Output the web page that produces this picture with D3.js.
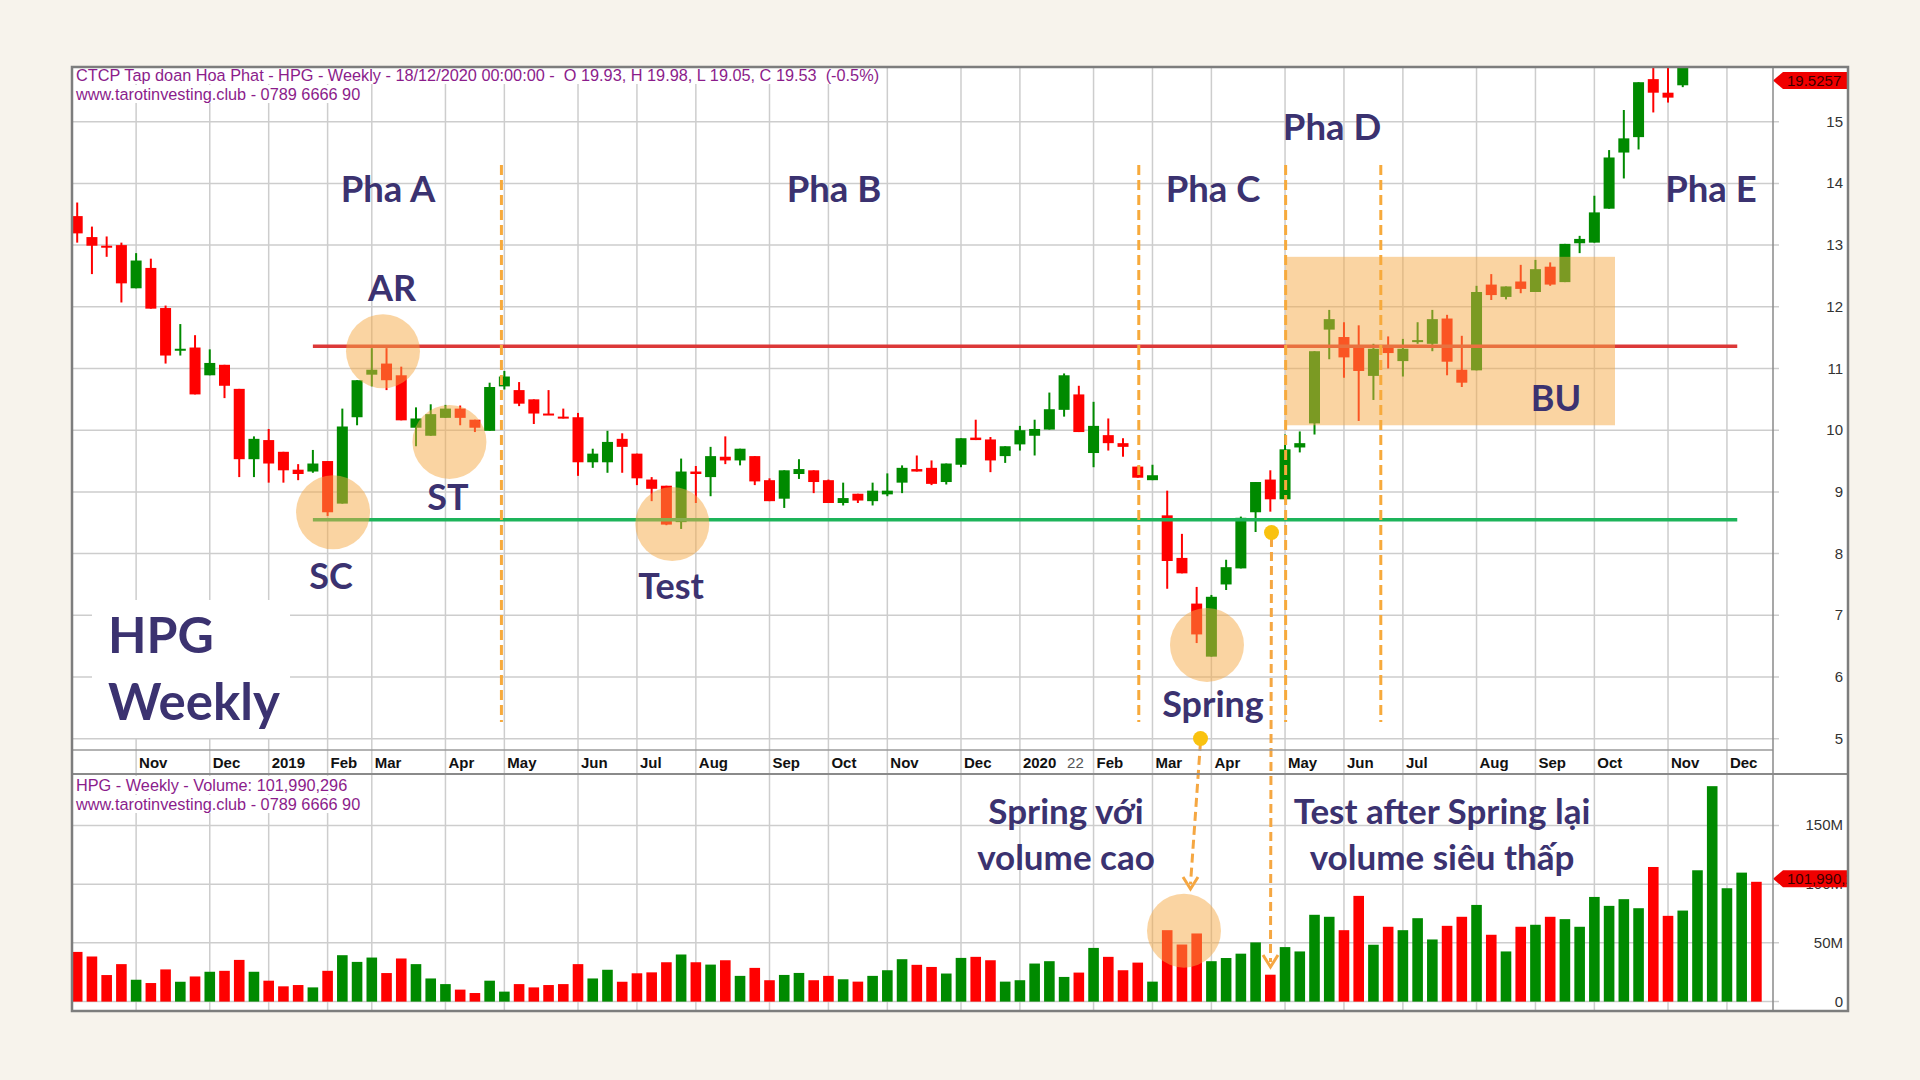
<!DOCTYPE html>
<html><head><meta charset="utf-8">
<script src="https://cdn.jsdelivr.net/npm/d3@7"></script>
<style>body{margin:0;background:#f7f3ec;} svg{display:block}</style>
</head><body><svg id="c" width="1920" height="1080"></svg>
<script>
// ---------- DATA ----------
const openP = [13.47,13.13,12.99,13.00,12.30,12.63,11.98,11.31,11.34,10.89,
 11.06,10.67,9.53,9.84,9.65,9.36,9.33,9.50,8.81,10.21,
 10.90,11.08,10.89,10.04,9.91,10.20,10.35,10.17,9.99,10.71,
 10.65,10.50,10.27,10.22,10.21,9.48,9.48,9.86,9.62,9.20,
 9.10,8.51,9.33,9.24,9.57,9.51,9.58,9.19,8.89,9.29,
 9.35,9.19,8.82,8.97,8.85,8.96,9.15,9.37,9.39,9.16,
 9.44,9.88,9.85,9.58,9.77,9.91,10.01,10.33,10.58,9.63,
 9.92,9.79,9.41,9.19,8.62,7.93,7.19,6.33,7.50,7.76,
 8.67,9.20,8.88,9.72,10.11,11.63,11.51,11.34,10.88,11.36,
 11.12,11.44,11.40,11.81,10.98,10.97,12.36,12.16,12.41,12.24,
 12.65,12.40,13.03,13.04,13.59,14.50,14.75,15.69,15.47,15.59,
 16.20,17.10,18.40,18.90,19.93];
const highP = [13.69,13.30,13.14,13.04,12.87,12.78,12.02,11.72,11.54,11.31,
 11.06,10.67,9.90,10.02,9.65,9.45,9.68,9.50,10.35,10.81,
 11.33,11.33,11.03,10.37,10.42,10.41,10.40,10.17,10.77,10.96,
 10.78,10.50,10.65,10.35,10.28,9.70,9.99,9.95,9.62,9.24,
 9.10,9.54,9.42,9.73,9.90,9.70,9.58,9.22,9.35,9.53,
 9.35,9.20,9.15,8.97,9.15,9.30,9.43,9.59,9.51,9.46,
 9.87,10.17,9.89,9.74,10.07,10.17,10.61,10.92,10.72,10.46,
 10.19,9.87,9.41,9.44,9.02,8.32,7.46,7.33,7.90,8.60,
 9.16,9.35,9.93,9.98,11.28,11.95,11.75,11.70,11.40,11.52,
 11.48,11.75,11.95,11.87,11.53,12.34,12.53,12.33,12.68,12.76,
 12.72,13.02,13.15,13.80,14.54,15.19,15.64,16.20,16.10,16.40,
 17.30,18.60,19.30,20.10,19.98];
const lowP = [13.04,12.53,12.81,12.07,12.30,11.97,11.08,11.21,10.58,10.89,
 10.52,9.24,9.24,9.15,9.15,9.19,9.31,8.61,8.81,10.08,
 10.71,10.65,10.16,9.74,9.91,10.20,10.08,9.97,9.99,10.66,
 10.39,10.10,10.25,10.19,9.26,9.39,9.31,9.31,9.11,8.85,
 8.46,8.40,8.82,8.93,9.45,9.43,9.11,8.85,8.74,9.21,
 8.98,8.82,8.78,8.82,8.78,8.93,8.98,9.33,9.11,9.12,
 9.40,9.84,9.32,9.47,9.67,9.59,10.01,10.22,9.97,9.40,
 9.67,9.57,9.23,9.19,7.43,7.68,6.55,6.33,7.41,7.76,
 8.35,8.68,8.88,9.64,9.93,11.15,10.85,10.15,10.49,11.00,
 10.87,11.40,11.28,10.89,10.70,10.97,12.11,12.12,12.22,12.24,
 12.34,12.40,12.87,13.04,13.59,14.08,14.55,15.15,15.31,15.56,
 16.00,17.00,18.10,18.70,19.05];
const closeP = [13.19,12.99,12.96,12.38,12.75,11.97,11.21,11.32,10.58,11.09,
 10.72,9.53,9.86,9.46,9.35,9.29,9.46,8.67,10.06,10.81,
 10.98,10.81,10.16,10.19,10.26,10.35,10.20,10.04,10.70,10.87,
 10.43,10.27,10.25,10.20,9.48,9.62,9.81,9.73,9.22,9.05,
 8.47,9.33,9.29,9.58,9.51,9.70,9.17,8.85,9.35,9.37,
 9.16,8.82,8.90,8.86,9.02,9.02,9.39,9.33,9.13,9.46,
 9.87,9.84,9.51,9.74,10.00,10.02,10.34,10.89,9.97,10.07,
 9.79,9.73,9.23,9.27,7.88,7.68,6.69,7.30,7.78,8.58,
 9.16,8.88,9.69,9.79,11.28,11.80,11.18,10.96,11.32,11.25,
 11.32,11.46,11.80,11.11,10.77,12.24,12.19,12.33,12.29,12.61,
 12.36,13.02,13.10,13.53,14.42,14.73,15.64,15.47,15.39,16.20,
 17.10,18.40,18.90,19.90,19.53];
// weekly volume, millions of shares
const volumeM = [42.3,38.4,22.6,31.9,18.6,15.8,27.4,16.9,21.4,25.4,
 26.2,35.5,25.4,17.8,13.0,14.1,12.1,26.2,39.5,33.8,
 37.5,24.3,36.7,31.9,19.7,14.9,10.2,7.3,17.8,8.5,
 14.9,12.1,14.1,14.9,31.9,19.7,27.1,16.9,24.1,24.9,
 33.5,40.1,33.5,31.5,35.2,21.9,28.7,18.2,22.7,24.4,
 18.2,21.9,19.0,17.0,21.9,26.7,36.1,31.3,29.5,23.9,
 37.2,38.1,35.2,17.0,18.2,32.4,34.4,21.0,24.7,45.7,
 38.1,26.7,33.2,17.0,60.8,48.6,58.0,34.4,37.1,40.8,
 50.4,22.9,46.4,42.7,73.9,72.2,60.8,90.0,48.4,63.7,
 60.8,71.0,52.9,64.5,72.2,82.3,56.9,42.7,63.7,65.4,
 72.2,70.2,63.7,89.1,81.5,87.2,79.5,114.6,73.0,77.5,
 111.8,183.4,96.5,109.8,101.99];
const monthIdx = [4,9,13,17,20,25,29,34,38,42,47,51,55,60,64,69,73,77,82,86,90,95,99,103,108,112];
const monthLabels = ["Nov","Dec","2019","Feb","Mar","Apr","May","Jun","Jul","Aug","Sep","Oct","Nov","Dec","2020","Feb","Mar","Apr","May","Jun","Jul","Aug","Sep","Oct","Nov","Dec"];
const priceTicks = [5,6,7,8,9,10,11,12,13,14,15];
const volTicks = [0,50,100,150];
const volTickLabels = ["0","50M","100M","150M"];
const resistanceLevel = 11.36, supportLevel = 8.55;
const phaseLineIdx = [28.8, 72.07, 82.04, 88.5];

// ---------- LAYOUT ----------
const L=72, R=1848, T=67, B=1011, AX=1773, DT=750, VT=774;
const svg = d3.select("#c");
svg.append("rect").attr("width",1920).attr("height",1080).attr("fill","#f7f3ec");
svg.append("rect").attr("x",L).attr("y",T).attr("width",R-L).attr("height",B-T).attr("fill","#fff");

const x = d3.scaleLinear().domain([0,114]).range([77.2, 1756.4]);
const yP = d3.scaleLinear().domain([5,15]).range([738.7,121.7]);
const yV = d3.scaleLinear().domain([0,150]).range([1001.6,825.4]);

const defs = svg.append("defs");
defs.append("clipPath").attr("id","pc").append("rect").attr("x",L+1).attr("y",T+1).attr("width",AX-L-1).attr("height",DT-T-1);
defs.append("clipPath").attr("id","vc").append("rect").attr("x",L+1).attr("y",VT+1).attr("width",AX-L-1).attr("height",B-VT-1);
defs.append("clipPath").attr("id","tagc").append("rect").attr("x",AX).attr("y",T).attr("width",R-AX-1).attr("height",B-T);

const GRID="#cdcdcd";
const g = svg.append("g");
g.selectAll(".hp").data(priceTicks).join("line").attr("x1",L).attr("x2",AX+6)
  .attr("y1",d=>yP(d)).attr("y2",d=>yP(d)).attr("stroke",GRID).attr("stroke-width",1.5);
g.selectAll(".hv").data(volTicks).join("line").attr("x1",L).attr("x2",AX+6)
  .attr("y1",d=>yV(d)).attr("y2",d=>yV(d)).attr("stroke",GRID).attr("stroke-width",1.5);
g.selectAll(".vg").data(monthIdx).join("line").attr("x1",d=>x(d)).attr("x2",d=>x(d))
  .attr("y1",T).attr("y2",B).attr("stroke",GRID).attr("stroke-width",1.5);

function headerLine(tx, ty, txt, size){
  const gg = svg.append("g");
  const r = gg.append("rect").attr("fill","#fff");
  const t = gg.append("text").attr("x",tx).attr("y",ty).attr("font-family","Liberation Sans, Arial, sans-serif")
    .attr("font-size",size).attr("fill","#8b1c8b").style("white-space","pre").text(txt);
  const bb = t.node().getBBox();
  r.attr("x",bb.x-2).attr("y",bb.y).attr("width",bb.width+4).attr("height",bb.height);
}
headerLine(76, 81, "CTCP Tap doan Hoa Phat - HPG - Weekly - 18/12/2020 00:00:00 -  O 19.93, H 19.98, L 19.05, C 19.53  (-0.5%)", 16.3);
headerLine(76, 100, "www.tarotinvesting.club - 0789 6666 90", 16.3);
headerLine(76, 791, "HPG - Weekly - Volume: 101,990,296", 16.3);
headerLine(76, 810, "www.tarotinvesting.club - 0789 6666 90", 16.3);

svg.append("rect").attr("x",92).attr("y",600).attr("width",198).attr("height",138).attr("fill","#fff");

const UP="#008a00", DN="#ff0000";
const idx = d3.range(openP.length);
const col = i => closeP[i] >= openP[i] ? UP : DN;

const cg = svg.append("g").attr("clip-path","url(#pc)");
cg.selectAll(".wk").data(idx).join("line").attr("x1",i=>x(i)).attr("x2",i=>x(i))
  .attr("y1",i=>yP(highP[i])).attr("y2",i=>yP(lowP[i])).attr("stroke",col).attr("stroke-width",2);
cg.selectAll(".bd").data(idx).join("rect").attr("x",i=>x(i)-5.5).attr("width",11)
  .attr("y",i=>yP(Math.max(openP[i],closeP[i])))
  .attr("height",i=>Math.max(2, Math.abs(yP(openP[i])-yP(closeP[i])))).attr("fill",col);

const vg = svg.append("g").attr("clip-path","url(#vc)");
vg.selectAll(".vb").data(idx).join("rect").attr("x",i=>x(i)-5.3).attr("width",10.6)
  .attr("y",i=>yV(volumeM[i])).attr("height",i=>yV(0)-yV(volumeM[i])).attr("fill",col);

svg.append("line").attr("x1",x(16)).attr("x2",x(112.7)).attr("y1",yP(resistanceLevel)).attr("y2",yP(resistanceLevel))
  .attr("stroke","#dc3838").attr("stroke-width",3.5);
svg.append("line").attr("x1",x(16)).attr("x2",x(112.7)).attr("y1",yP(supportLevel)).attr("y2",yP(supportLevel))
  .attr("stroke","#1db45a").attr("stroke-width",3.5);

const OV="rgb(245,170,70)", OVO=0.5;
const circles = [[17.37,8.67],[20.76,11.28],[25.27,9.81],[40.4,8.48],[76.7,6.52]];
svg.selectAll(".ci").data(circles).join("circle").attr("cx",d=>x(d[0])).attr("cy",d=>yP(d[1])).attr("r",37)
  .attr("fill",OV).attr("fill-opacity",OVO);
svg.append("circle").attr("cx",x(75.14)).attr("cy",yV(60.4)).attr("r",37).attr("fill",OV).attr("fill-opacity",OVO);
svg.append("rect").attr("x",x(82.04)).attr("y",yP(12.81)).attr("width",x(104.4)-x(82.04)).attr("height",yP(10.08)-yP(12.81))
  .attr("fill",OV).attr("fill-opacity",OVO);

svg.selectAll(".ph").data(phaseLineIdx).join("line").attr("x1",d=>x(d)).attr("x2",d=>x(d))
  .attr("y1",165).attr("y2",722).attr("stroke","#f7aa3c").attr("stroke-width",3).attr("stroke-dasharray","10,5");

const AR="#f5a742";
svg.append("line").attr("x1",1200.5).attr("y1",742).attr("x2",1190.5).attr("y2",884).attr("stroke",AR).attr("stroke-width",3).attr("stroke-dasharray","9,5");
svg.append("path").attr("d","M1183,877 L1190.5,889 L1198,877").attr("fill","none").attr("stroke",AR).attr("stroke-width",3);
svg.append("circle").attr("cx",1200.5).attr("cy",738.5).attr("r",7.5).attr("fill","#f9c20f");
svg.append("line").attr("x1",1271.5).attr("y1",538).attr("x2",1270.5).attr("y2",962).attr("stroke",AR).attr("stroke-width",3).attr("stroke-dasharray","9,5");
svg.append("path").attr("d","M1263,955 L1270.5,967 L1278,955").attr("fill","none").attr("stroke",AR).attr("stroke-width",3);
svg.append("circle").attr("cx",1271.5).attr("cy",532.5).attr("r",7.5).attr("fill","#f9c20f");

const TC="#3b3270", TF="Lato, 'Open Sans', sans-serif";
const ann = [
 ["Pha A",388,202,36.5],["Pha B",834,202,36.5],["Pha C",1213,202,36.5],["Pha D",1332,140,36.5],["Pha E",1711,202,36.5],
 ["AR",392,301,36],["ST",448,510,36],["SC",331,589,36],["Test",671,599,36],["Spring",1213,717,36],["BU",1556,411,36],
 ["Spring với",1066,824,35],["volume cao",1066,870,35],["Test after Spring lại",1442,824,35],["volume siêu thấp",1442,870,35]
];
svg.selectAll(".an").data(ann).join("text").attr("x",d=>d[1]).attr("y",d=>d[2]).attr("font-size",d=>d[3])
  .attr("text-anchor","middle").attr("font-family",TF).attr("font-weight",700).attr("fill",TC).text(d=>d[0]);
svg.append("text").attr("x",108).attr("y",653).attr("font-size",50).attr("font-family",TF).attr("font-weight",700).attr("fill",TC).text("HPG");
svg.append("text").attr("x",108).attr("y",720).attr("font-size",51).attr("font-family",TF).attr("font-weight",700).attr("fill",TC).text("Weekly");

svg.selectAll(".ml").data(monthIdx).join("text").attr("x",d=>x(d)+3).attr("y",768)
  .attr("font-family","Liberation Sans, Arial, sans-serif").attr("font-weight",700).attr("font-size",15).attr("fill","#111")
  .text((d,i)=>monthLabels[i]);
svg.append("text").attr("x",x(67)+3).attr("y",768).attr("font-family","Liberation Sans, Arial, sans-serif")
  .attr("font-size",15).attr("fill","#555").text("22");

svg.selectAll(".pl").data(priceTicks).join("text").attr("x",1843).attr("y",d=>yP(d)+5).attr("text-anchor","end")
  .attr("font-family","Liberation Sans, Arial, sans-serif").attr("font-size",15).attr("fill","#333").text(d=>d);
svg.selectAll(".vl").data(volTicks).join("text").attr("x",1843).attr("y",d=>yV(d)+5).attr("text-anchor","end")
  .attr("font-family","Liberation Sans, Arial, sans-serif").attr("font-size",15).attr("fill","#333").text((d,i)=>volTickLabels[i]);

function tag(yc, txt){
  const gg = svg.append("g").attr("clip-path","url(#tagc)");
  gg.append("path").attr("d",`M${AX},${yc} L${AX+10},${yc-8.5} L${R},${yc-8.5} L${R},${yc+8.5} L${AX+10},${yc+8.5} Z`).attr("fill","#f00000");
  gg.append("text").attr("x",AX+14).attr("y",yc+5.5).attr("font-family","Liberation Sans, Arial, sans-serif")
    .attr("font-size",15).attr("fill","#3a0000").text(txt);
}
tag(80.5, "19.5257");
tag(yV(volumeM[114])-3, "101,990,296");

svg.append("line").attr("x1",L).attr("x2",AX).attr("y1",DT).attr("y2",DT).attr("stroke","#9a9a9a").attr("stroke-width",1.5);
svg.append("line").attr("x1",L).attr("x2",R).attr("y1",VT).attr("y2",VT).attr("stroke","#8a8a8a").attr("stroke-width",2);
svg.append("line").attr("x1",AX).attr("x2",AX).attr("y1",T).attr("y2",B).attr("stroke","#8a8a8a").attr("stroke-width",1.5);
svg.append("rect").attr("x",L).attr("y",T).attr("width",R-L).attr("height",B-T).attr("fill","none").attr("stroke","#7d7d7d").attr("stroke-width",2.5);
</script></body></html>
